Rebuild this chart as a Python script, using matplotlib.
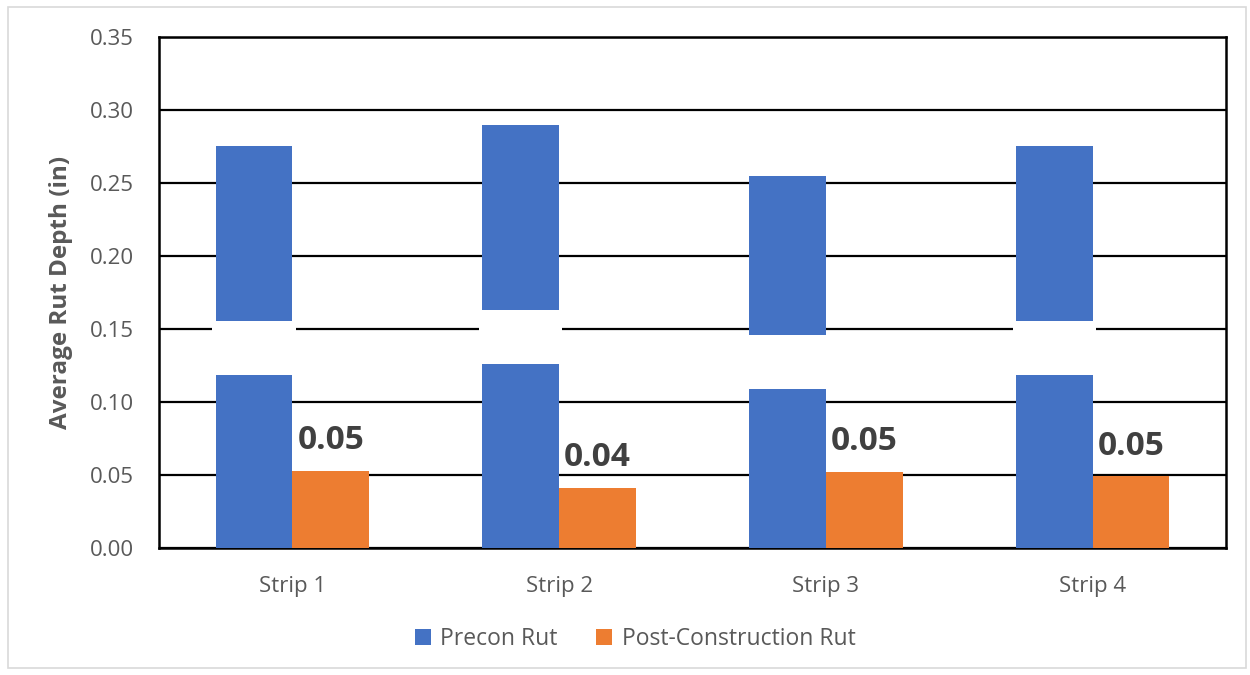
import numpy as np
import matplotlib
matplotlib.use("Agg")
from matplotlib import pyplot as plt
from matplotlib.patches import Rectangle

plt.rcParams['font.family'] = ['Open Sans', 'DejaVu Sans']

strips = ["Strip 1", "Strip 2", "Strip 3", "Strip 4"]
precon_rut = [0.275, 0.290, 0.255, 0.275]
post_rut = [0.053, 0.041, 0.052, 0.049]
post_labels = ["0.05", "0.04", "0.05", "0.05"]
# white boxes that hide part of each blue bar in the original
gap_low = [0.1185, 0.126, 0.109, 0.1185]
gap_high = [0.1555, 0.163, 0.146, 0.1555]

blue = "#4472C4"
orange = "#ED7D31"
grey = "#595959"

fig = plt.figure(figsize=(12.5, 6.75), dpi=100)
fig.patches.append(Rectangle((0.006, 0.01), 0.991, 0.98, transform=fig.transFigure,
                             fill=False, edgecolor="#d9d9d9", linewidth=1.2))
ax = fig.add_axes([0.1272, 0.1881, 0.8536, 0.7571])

idx = np.arange(len(strips))
w = 0.288
ax.bar(idx - w / 2, precon_rut, w, color=blue, label="Precon Rut", zorder=3)
ax.bar(idx + w / 2, post_rut, w, color=orange, label="Post-Construction Rut", zorder=3)
ax.bar(idx - w / 2, np.array(gap_high) - np.array(gap_low), w + 0.024, bottom=gap_low,
       color="white", zorder=4)

for i, (v, lab) in enumerate(zip(post_rut, post_labels)):
    ax.annotate(lab, (idx[i] + w / 2, v), xytext=(0, 10), textcoords="offset points",
                ha="center", va="bottom", fontsize=24, fontweight="bold",
                color="#404040", zorder=5)

ax.set_xlim(-0.5, 3.5)
ax.set_ylim(0, 0.35)
ax.set_yticks(np.arange(0, 0.351, 0.05))
ax.set_yticklabels([f"{t:.2f}" for t in np.arange(0, 0.351, 0.05)])
ax.set_xticks(idx)
ax.set_xticklabels(strips)
ax.tick_params(axis="y", length=0, pad=18, labelsize=16, labelcolor=grey)
ax.tick_params(axis="x", length=0, pad=20, labelsize=16, labelcolor=grey)
ax.yaxis.grid(True, color="black", linewidth=1.6, zorder=0)
ax.set_axisbelow(True)
for s in ax.spines.values():
    s.set_color("black")
    s.set_linewidth(1.8)

ax.set_ylabel("Average Rut Depth (in)", fontsize=17.5, fontweight="bold", color=grey, labelpad=12)

fig.legend(loc="center", bbox_to_anchor=(635 / 1250, 1 - 639 / 675), ncol=2, frameon=False,
           fontsize=16.5, labelcolor=grey, handlelength=0.7, handleheight=0.7,
           handletextpad=0.4, columnspacing=1.7)

fig.savefig("out.png", dpi=100)
